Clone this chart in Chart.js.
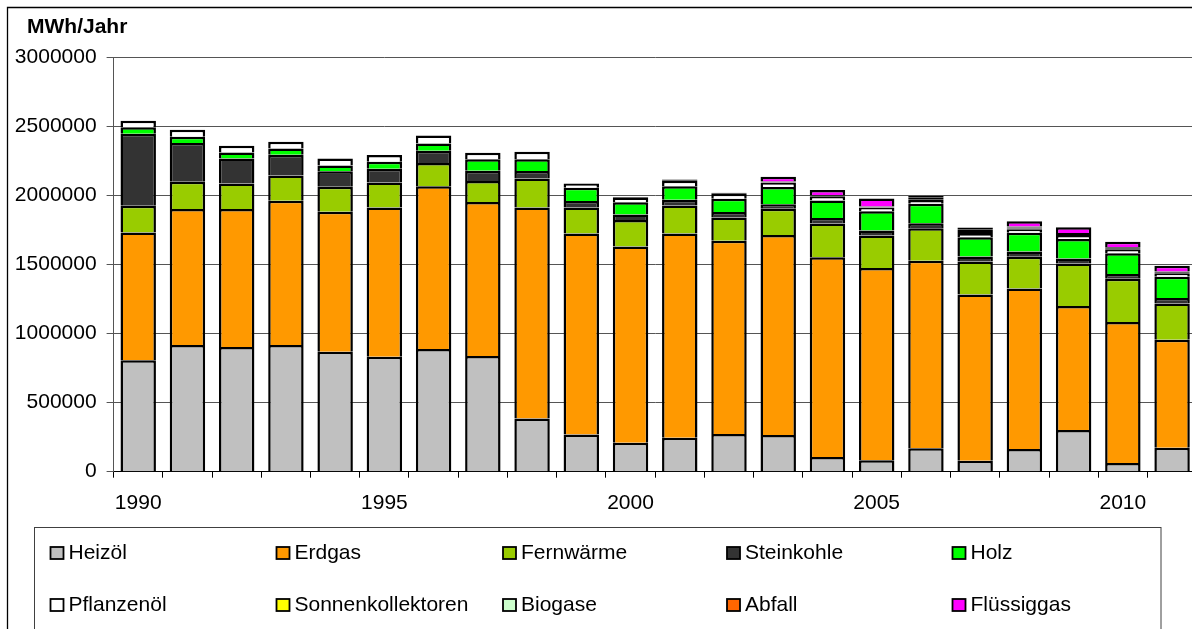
<!DOCTYPE html>
<html lang="de">
<head>
<meta charset="utf-8">
<title>Wärmeverbrauch nach Energieträgern</title>
<script src="https://cdn.jsdelivr.net/npm/chart.js@4.4.1/dist/chart.umd.min.js"></script>
<style>
  html, body { margin: 0; padding: 0; background: #fff; overflow: hidden; }
  canvas { display: block; }
</style>
</head>
<body>
<canvas id="chart" width="1200" height="629"></canvas>
<script>
// Jahre (Kategorien) und beschriftete Jahre der x-Achse
const years = ['1990','1991','1992','1993','1994','1995','1996','1997','1998','1999','2000',
               '2001','2002','2003','2004','2005','2006','2007','2008','2009','2010','2011'];
const shownYears = ['1990','1995','2000','2005','2010'];

// Werte der y-Achse (MWh/Jahr)
const yMin = 0;
const yMax = 3000000;
const yStep = 500000;

// Verbrauch je Energieträger in MWh/Jahr
const heizoel = [806000, 917000, 902000, 917000, 868000, 832000, 888000, 837000, 386000, 270000, 209000,
                 246000, 273000, 266000, 106000, 83000, 169000, 80000, 165000, 302000, 63000, 174000];
const erdgas = [926000, 984000, 999000, 1044000, 1013000, 1081000, 1178000, 1115000, 1527000, 1455000, 1422000,
                1479000, 1399000, 1447000, 1447000, 1391000, 1358000, 1203000, 1162000, 897000, 1020000, 781000];
const fernwaerme = [193000, 198000, 186000, 183000, 181000, 181000, 168000, 152000, 210000, 188000, 191000,
                    202000, 169000, 190000, 244000, 236000, 236000, 239000, 229000, 308000, 313000, 263000];
const steinkohle = [521000, 280000, 181000, 150000, 113000, 99000, 89000, 74000, 53000, 47000, 40000,
                    41000, 39000, 34000, 39000, 36000, 36000, 36000, 39000, 36000, 36000, 39000];
const holz = [48000, 46000, 43000, 46000, 41000, 51000, 53000, 84000, 86000, 95000, 88000,
              99000, 96000, 124000, 128000, 140000, 140000, 140000, 135000, 142000, 150000, 154000];
const pflanzenoel = [46000, 51000, 48000, 48000, 51000, 48000, 57000, 47000, 54000, 32000, 33000,
                     40000, 36000, 31000, 27000, 24000, 21000, 22000, 22000, 22000, 24000, 22000];
const sonnenkollektoren = [0, 0, 0, 0, 0, 0, 0, 0, 0, 0, 6000,
                           8000, 7000, 3000, 4000, 3000, 12000, 16000, 8000, 7000, 6000, 5500];
const biogase = [0, 0, 0, 0, 0, 0, 0, 0, 0, 0, 0,
                 0, 0, 3000, 4000, 3000, 12000, 16000, 8000, 7000, 6000, 5500];
const abfall = [0, 0, 0, 0, 0, 0, 0, 0, 0, 0, 0,
                0, 0, 3000, 4000, 3000, 12000, 16000, 8000, 7000, 6000, 5500];
const fluessiggas = [0, 0, 0, 0, 0, 0, 0, 0, 0, 0, 0,
                     0, 0, 34000, 36000, 58000, 0, 0, 38000, 41000, 40000, 41000];

const FONT = '"Liberation Sans", Arial, Helvetica, sans-serif';
Chart.defaults.font.family = FONT;
Chart.defaults.font.size = 21;
Chart.defaults.color = '#000';

// Segmente mit schwarzem Rahmen; sehr dünne Segmente erscheinen als reine Rahmenlinie
function series(label, data, color, thin) {
  return {
    label: label,
    data: data,
    backgroundColor: color,
    borderColor: '#000',
    borderWidth: 2.5,
    borderSkipped: thin ? false : 'start',
    barPercentage: 0.72,
    categoryPercentage: 1.0
  };
}

// Rahmen, Achsentitel und Legende des Diagramms
const decorations = {
  id: 'decorations',
  afterDraw(chart) {
    const ctx = chart.ctx;
    ctx.save();

    // äußerer Diagrammrahmen
    ctx.strokeStyle = '#000';
    ctx.lineWidth = 1.3;
    ctx.beginPath();
    ctx.moveTo(7.5, 700);
    ctx.lineTo(7.5, 7.5);
    ctx.lineTo(1400, 7.5);
    ctx.stroke();

    // Einheit über der y-Achse
    ctx.fillStyle = '#000';
    ctx.font = 'bold 21px ' + FONT;
    ctx.textAlign = 'left';
    ctx.textBaseline = 'middle';
    ctx.fillText('MWh/Jahr', 27, 27);

    // Legende
    const box = { left: 34.5, top: 527.5, right: 1161 };
    ctx.strokeStyle = '#404040';
    ctx.lineWidth = 1;
    ctx.strokeRect(box.left, box.top, box.right - box.left, 200);

    const colX = [50.5, 276.5, 503, 727, 952.5];
    const rowY = [553, 605];
    ctx.font = '21px ' + FONT;
    chart.data.datasets.forEach((ds, i) => {
      const x = colX[i % 5];
      const y = rowY[Math.floor(i / 5)];
      ctx.fillStyle = ds.backgroundColor;
      ctx.fillRect(x, y - 6, 13, 12);
      ctx.strokeStyle = '#000';
      ctx.lineWidth = 1.8;
      ctx.strokeRect(x, y - 6, 13, 12);
      ctx.fillStyle = '#000';
      ctx.fillText(ds.label, x + 18, y);
    });
    ctx.restore();
  }
};

new Chart(document.getElementById('chart'), {
  type: 'bar',
  data: {
    labels: years,
    datasets: [
      series('Heizöl', heizoel, '#C0C0C0'),
      series('Erdgas', erdgas, '#FF9900'),
      series('Fernwärme', fernwaerme, '#99CC00'),
      series('Steinkohle', steinkohle, '#333333'),
      series('Holz', holz, '#00FF00'),
      series('Pflanzenöl', pflanzenoel, '#FFFFFF'),
      series('Sonnenkollektoren', sonnenkollektoren, '#FFFF00', true),
      series('Biogase', biogase, '#CCFFCC', true),
      series('Abfall', abfall, '#FF6600', true),
      series('Flüssiggas', fluessiggas, '#FF00FF')
    ]
  },
  options: {
    responsive: false,
    animation: false,
    devicePixelRatio: 1,
    layout: { padding: { left: 0, top: 57.3, right: 3.3, bottom: 97.3 } },
    plugins: {
      legend: { display: false },
      tooltip: { enabled: false },
      title: { display: false }
    },
    scales: {
      x: {
        stacked: true,
        offset: true,
        grid: {
          offset: true,
          drawOnChartArea: false,
          drawTicks: true,
          tickLength: 6,
          color: '#000',
          lineWidth: 1
        },
        border: { display: true, color: '#000', width: 1 },
        ticks: {
          autoSkip: false,
          maxRotation: 0,
          minRotation: 0,
          padding: 13,
          color: '#000',
          callback: function (value) {
            const label = this.getLabelForValue(value);
            return shownYears.includes(label) ? label : '';
          }
        },
        afterFit(scale) { scale.height = 60; }
      },
      y: {
        stacked: true,
        min: yMin,
        max: yMax,
        grid: {
          color: '#555',
          lineWidth: 1,
          drawTicks: true,
          tickLength: 7
        },
        border: { display: true, color: '#555', width: 1 },
        ticks: {
          stepSize: yStep,
          padding: 10,
          color: '#000',
          callback: (v) => String(v)
        },
        afterFit(scale) { scale.width = 113.6; }
      }
    }
  },
  plugins: [decorations]
});
</script>
</body>
</html>
